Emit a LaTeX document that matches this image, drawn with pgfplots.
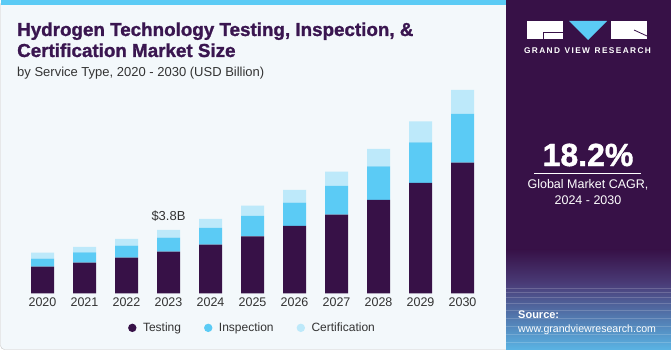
\documentclass[border=0pt]{standalone}
\usepackage{pgfplots}
\pgfplotsset{compat=1.18}
\usepackage{fontspec}
\setmainfont{Liberation Sans}
\newfontfamily\titlefont[BoldFeatures={FakeBold=1.3}]{Liberation Sans}
\definecolor{testc}{HTML}{371147}
\definecolor{inspc}{HTML}{5BCBF5}
\definecolor{certc}{HTML}{BDE9FA}
\definecolor{bgc}{HTML}{F3F8FB}
\definecolor{titc}{HTML}{3A1650}
\definecolor{txtc}{HTML}{333333}
\definecolor{panc}{HTML}{371147}
\definecolor{panmid}{HTML}{4A3C78}
\definecolor{panbot}{HTML}{5AB4E4}
\begin{document}
\begin{tikzpicture}[x=1pt,y=1pt]
\useasboundingbox (0,0) rectangle (671,350);
\fill[white] (0,0) rectangle (671,350);
\filldraw[fill=bgc, draw=gray!45, rounded corners=4pt] (0.5,0.5) rectangle (520,349.5);
\fill[inspc] (0.5,345) rectangle (506,350);
% right panel
\fill[panc] (506,100) rectangle (671,350);
\shade[top color=panc, bottom color=panmid] (506,66) rectangle (671,100.5);
\shade[top color=panmid, bottom color=panbot] (506,0) rectangle (671,66.5);
\begin{scope}
\clip (506,0) rectangle (671,66);
\foreach \yy in {8,16,24,32,40,47,53,58,62}{\draw[white, opacity=0.18, line width=0.4pt] (506,\yy) -- (671,\yy);}
\foreach \xx in {-200,-170,...,400}{\draw[white, opacity=0.15, line width=0.4pt] (588,200) -- (\xx,-40);}
\end{scope}
% logo
\fill[white] (527,311) rectangle (563,329);
\draw[panc, line width=0.8pt] (543,311) -- (543,317.3) -- (563,317.3);
\fill[inspc] (569,329) -- (607,329) -- (588,310) -- cycle;
\fill[white] (611,311) rectangle (647,329);
\draw[panc, line width=0.8pt] (634,320) -- (647,314);
\node[text=white, font=\bfseries\fontsize{8.3}{10}\selectfont, inner sep=0] at (587.5,299) {G\,R\,A\,N\,D\;\;V\,I\,E\,W\;\;R\,E\,S\,E\,A\,R\,C\,H};
% CAGR
\node[text=white, font=\titlefont\bfseries\fontsize{32}{34}\selectfont, inner sep=0] at (588,195) {18.2\%};
\draw[white, line width=0.8pt] (534,177) -- (641,177);
\node[text=white, font=\fontsize{12.5}{14}\selectfont, inner sep=0] at (588,165) {Global Market CAGR,};
\node[text=white, font=\fontsize{12.5}{14}\selectfont, inner sep=0] at (588,150) {2024 - 2030};
\node[text=white, font=\bfseries\fontsize{11}{13}\selectfont, inner sep=0, anchor=base west] at (518,31) {Source:};
\node[text=white, font=\fontsize{10.6}{13}\selectfont, inner sep=0, anchor=base west] at (518,17) {www.grandviewresearch.com};
% titles
\node[anchor=base west, font=\titlefont\bfseries\fontsize{18.8}{21}\selectfont, text=titc, inner sep=0] at (17,314) {Hydrogen Technology Testing, Inspection, \&};
\node[anchor=base west, font=\titlefont\bfseries\fontsize{18.8}{21}\selectfont, text=titc, inner sep=0] at (17,293) {Certification Market Size};
\node[anchor=base west, font=\fontsize{13}{15}\selectfont, text=txtc, inner sep=0] at (17,273) {by Service Type, 2020 - 2030 (USD Billion)};
\begin{axis}[
  at={(8.9pt,56.7pt)}, anchor=south west,
  scale only axis, width=487.2pt, height=213.3pt,
  xmin=-0.8, xmax=10.8, ymin=0, ymax=12.8,
  ybar stacked, bar width=23pt,
  axis line style={draw=none},
  ytick=\empty,
  xtick={0,...,10},
  xticklabels={2020,2021,2022,2023,2024,2025,2026,2027,2028,2029,2030},
  major tick length=0pt,
  xticklabel style={font=\fontsize{12.5}{14}\selectfont, text=txtc, yshift=-1pt},
  legend style={draw=none, fill=none, at={(0.5,-0.162)}, anchor=center,
    font=\fontsize{12}{14}\selectfont, text=txtc,
    /tikz/every odd column/.append style={column sep=4.5pt},
    /tikz/every even column/.append style={column sep=21pt}},
  legend columns=-1,
  clip=false,
]
\addplot+[fill=testc, draw=none, legend image code/.code={\fill[testc] (0pt,0pt) circle (4.2pt);}] coordinates {
(0,1.60) (1,1.84) (2,2.14) (3,2.50) (4,2.92) (5,3.42) (6,4.04) (7,4.72) (8,5.60) (9,6.62) (10,7.84)};
\addplot+[fill=inspc, draw=none, legend image code/.code={\fill[inspc] (0pt,0pt) circle (4.2pt);}] coordinates {
(0,0.48) (1,0.62) (2,0.72) (3,0.84) (4,1.00) (5,1.22) (6,1.40) (7,1.72) (8,2.02) (9,2.44) (10,2.92)};
\addplot+[fill=certc, draw=none, legend image code/.code={\fill[certc] (0pt,0pt) circle (4.2pt);}] coordinates {
(0,0.36) (1,0.32) (2,0.40) (3,0.46) (4,0.54) (5,0.62) (6,0.76) (7,0.86) (8,1.04) (9,1.26) (10,1.44)};
\legend{Testing,Inspection,Certification}
\node[above, font=\fontsize{13}{15}\selectfont, text=txtc, inner sep=0] at (axis cs:3,3.8) [yshift=8pt] {\$3.8B};
\end{axis}
\end{tikzpicture}
\end{document}
